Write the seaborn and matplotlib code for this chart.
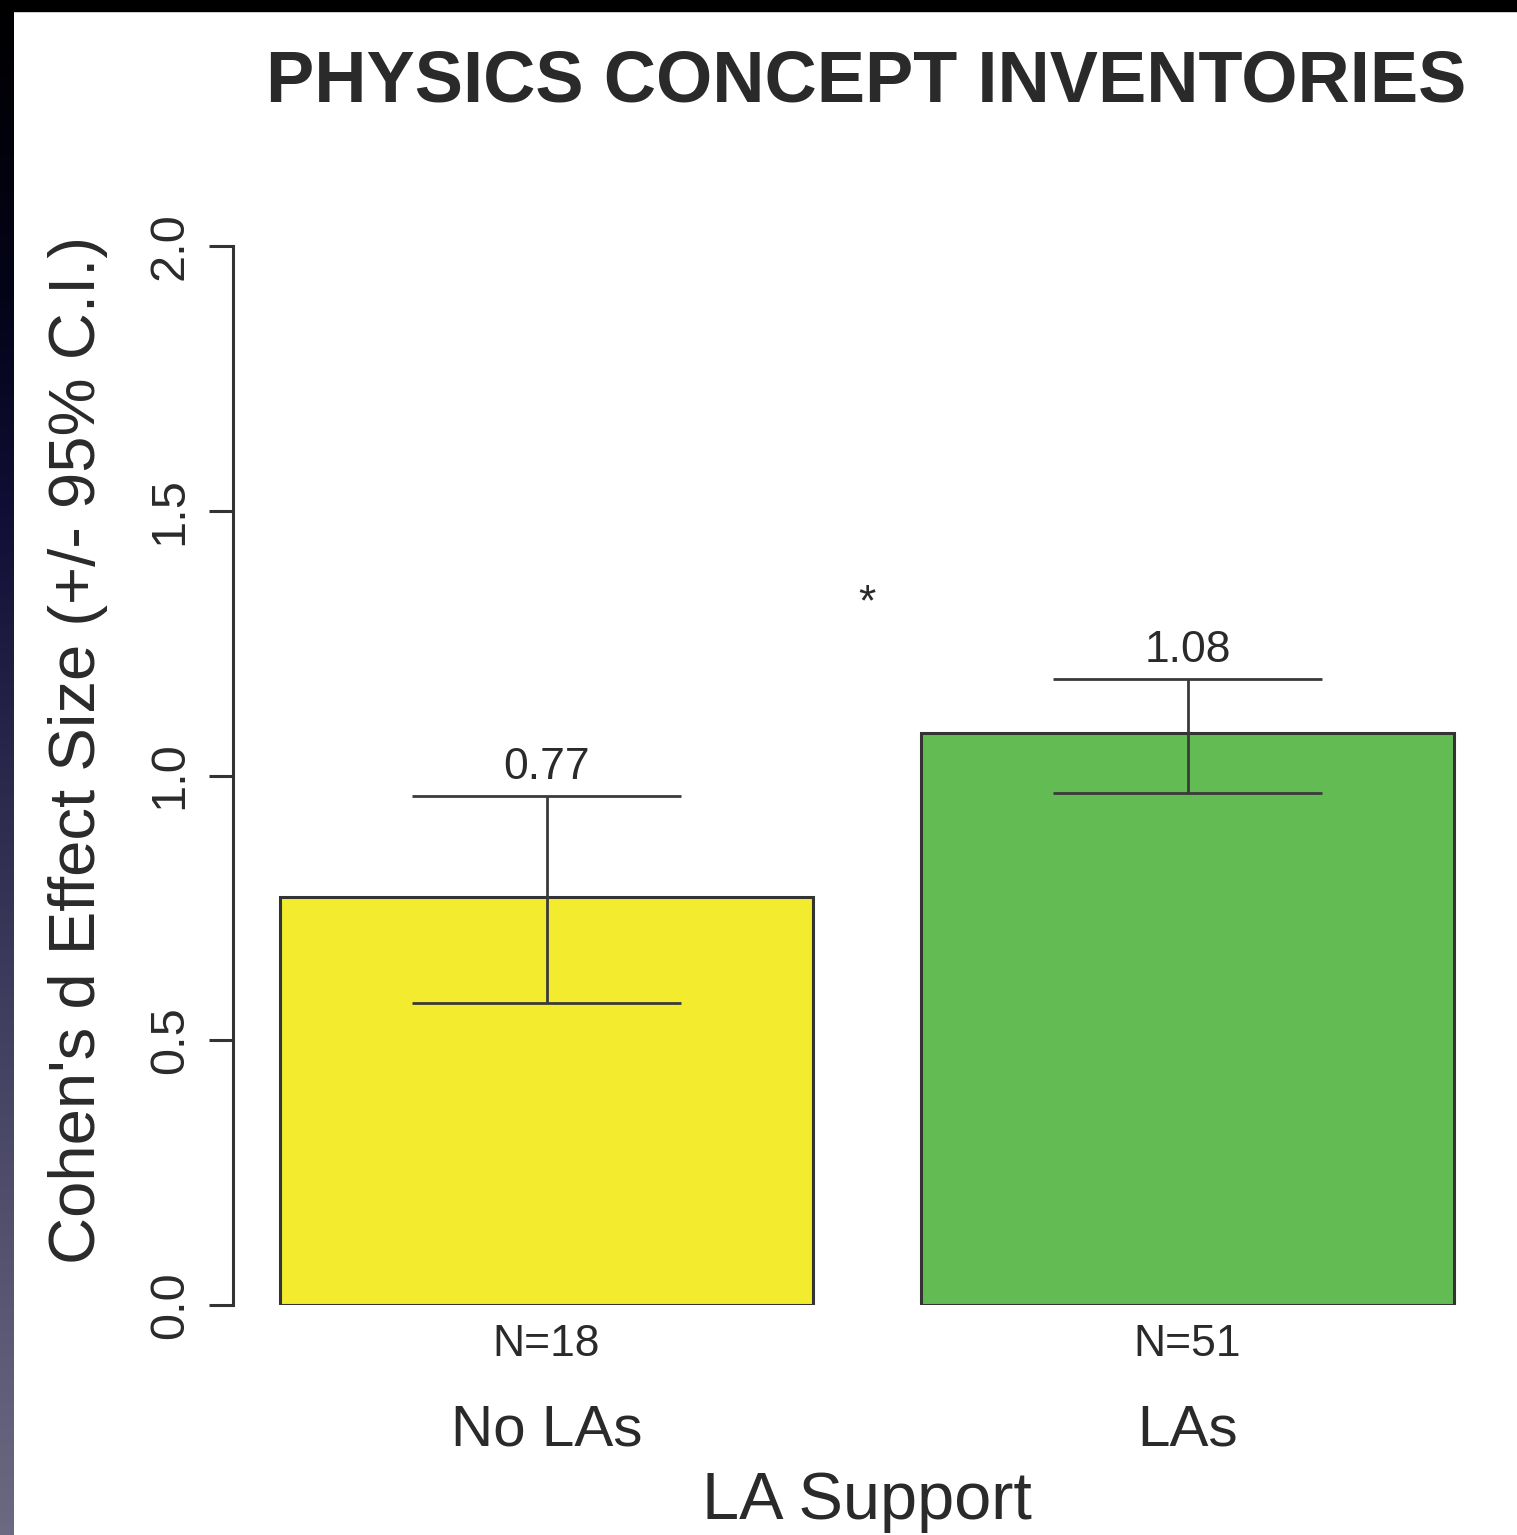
import numpy as np
import pandas as pd
import matplotlib
matplotlib.use("Agg")
import matplotlib.pyplot as plt
from matplotlib.colors import LinearSegmentedColormap
from matplotlib.transforms import blended_transform_factory
import seaborn as sns

# Effect sizes with 95% confidence intervals
groups = ["No LAs", "LAs"]
n_labels = ["N=18", "N=51"]
effect = [0.77, 1.08]
ci_low = [0.57, 0.967]
ci_high = [0.961, 1.182]
bar_colors = ["#F2EB2E", "#63BB53"]
yticks = [0.0, 0.5, 1.0, 1.5, 2.0]
ytick_labels = ["0.0", "0.5", "1.0", "1.5", "2.0"]

W, H = 1517, 1535
DPI = 100

sns.set_theme(style="white")
plt.rcParams["font.family"] = ["Liberation Sans", "DejaVu Sans"]

fig = plt.figure(figsize=(W / DPI, H / DPI), dpi=DPI, facecolor="white")

# plot region (pixel bounds converted to figure fractions)
ax_l, ax_r, ax_t, ax_b = 233, 1500, 246, 1305
ax = fig.add_axes([ax_l / W, 1 - ax_b / H, (ax_r - ax_l) / W, (ax_b - ax_t) / H])

df = pd.DataFrame({"group": groups, "effect": effect})
sns.barplot(data=df, x="group", y="effect", hue="group", palette=bar_colors,
            order=groups, hue_order=groups, legend=False, errorbar=None,
            width=0.8315, edgecolor="#333333", linewidth=2.2, saturation=1,
            ax=ax)

xpos = np.arange(len(groups))
cap = 0.21
err_color = "#3a3a3a"
ax.vlines(xpos, ci_low, ci_high, color=err_color, linewidth=2.0, zorder=4)
ax.hlines(ci_high, xpos - cap, xpos + cap, color=err_color, linewidth=2.0, zorder=4)
ax.hlines(ci_low, xpos - cap, xpos + cap, color=err_color, linewidth=2.0, zorder=4)

for x, v, hi in zip(xpos, effect, ci_high):
    ax.text(x, hi + 0.033, f"{v:.2f}", ha="center", va="baseline",
            fontsize=32, color="#2a2a2a")

# significance marker between the groups
ax.text(0.5, 1.325, "*", ha="center", va="center", fontsize=32, color="#2a2a2a")

ax.set_xlim((ax_l - 546.5) / 641, (ax_r - 546.5) / 641)
ax.set_ylim(0, 2)

for s in ["top", "right", "bottom"]:
    ax.spines[s].set_visible(False)
ax.spines["left"].set_color("#333333")
ax.spines["left"].set_linewidth(2.2)
ax.spines["left"].set_bounds(0, 2)

ax.set_yticks(yticks)
ax.set_yticklabels(ytick_labels, rotation=90, va="center", fontsize=35,
                   color="#2a2a2a")
ax.tick_params(axis="y", length=17, width=2.2, color="#333333", pad=12, left=True)

ax.set_xticks(xpos)
ax.set_xticklabels(n_labels, fontsize=32, color="#2a2a2a")
ax.tick_params(axis="x", length=0, pad=14)
ax.set_xlabel("")

ax.set_ylabel("Cohen's d Effect Size (+/- 95% C.I.)", fontsize=47,
              color="#2a2a2a")
ax.yaxis.set_label_coords(-0.0987, 0.524)

bt = blended_transform_factory(ax.transData, fig.transFigure)
for x, g in zip(xpos, groups):
    ax.text(x, 1 - 1445 / H, g, transform=bt, ha="center", va="baseline",
            fontsize=42, color="#2a2a2a")
ax.text(0.5, 1 - 1519 / H, "LA Support", transform=bt, ha="center",
        va="baseline", fontsize=48, color="#2a2a2a")

fig.text(866.5 / W, 1 - 102 / H, "PHYSICS CONCEPT INVENTORIES", ha="center",
         va="baseline", fontsize=52, fontweight="bold", color="#2a2a2a")

# dark frame: black strip along the top, shaded strip down the left edge
edge = fig.add_axes([0, 0, 14 / W, 1])
edge.axis("off")
shade = LinearSegmentedColormap.from_list(
    "edge", [(0.0, "#000000"), (0.2, "#04041a"), (0.33, "#100e34"),
             (0.65, "#3f3d5e"), (1.0, "#6c6a82")])
edge.imshow(np.linspace(0, 1, 256).reshape(-1, 1), aspect="auto", cmap=shade,
            extent=[0, 1, 0, 1], origin="upper")
edge.set_xlim(0, 1)
edge.set_ylim(0, 1)
fig.add_artist(plt.Rectangle((0, 1 - 11 / H), 1, 11 / H,
                             transform=fig.transFigure, color="black",
                             zorder=10))

fig.savefig("out.png", dpi=DPI, facecolor="white")
